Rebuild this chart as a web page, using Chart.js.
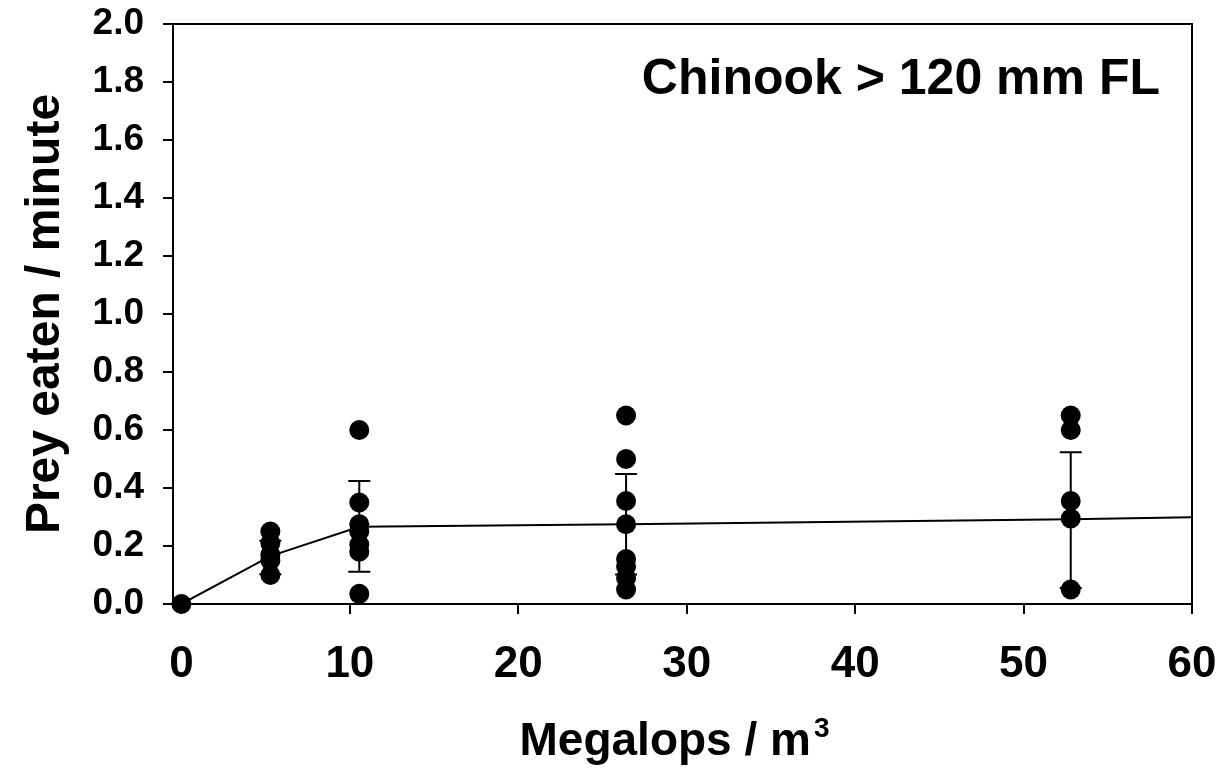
<!DOCTYPE html>
<html>
<head>
<meta charset="utf-8">
<script src="https://cdn.jsdelivr.net/npm/chart.js@4"></script>
<style>
  html, body { margin: 0; padding: 0; background: #fff; }
</style>
</head>
<body>
<canvas id="chart" width="1225" height="780"></canvas>
<script>
// Megalops densities tested (per m3)
const densities = [0, 5.28, 10.56, 26.4, 52.8];

// Individual trials: prey eaten per minute at each density
const trialsD0 = [0];
const trialsD1 = [0.25, 0.21, 0.17, 0.15, 0.10];
const trialsD2 = [0.60, 0.35, 0.275, 0.25, 0.205, 0.18, 0.035];
const trialsD3 = [0.65, 0.50, 0.355, 0.275, 0.155, 0.13, 0.09, 0.05];
const trialsD4 = [0.65, 0.60, 0.355, 0.295, 0.05];

// Error bars (mean +/- SD) for the non-zero densities
const errX = [5.28, 10.56, 26.4, 52.8];
const errLow = [0.103, 0.111, 0.102, 0.055];
const errHigh = [0.218, 0.424, 0.448, 0.523];

// Fitted curve
const fitX = [0, 5.28, 10.56, 26.4, 52.8, 60];
const fitY = [0, 0.165, 0.266, 0.275, 0.292, 0.299];

// Axis ticks
const xTicks = [0, 10, 20, 30, 40, 50, 60];
const yTicks = [0, 0.2, 0.4, 0.6, 0.8, 1.0, 1.2, 1.4, 1.6, 1.8, 2.0];

const chartTitle = 'Chinook > 120 mm FL';
const xTitle = 'Megalops / m';
const xTitleSup = '3';

const FONT = "'Liberation Sans', Arial, sans-serif";
Chart.defaults.font.family = FONT;
Chart.defaults.font.weight = 'bold';
Chart.defaults.color = '#000';

// Собираем точки
const trialSets = [trialsD0, trialsD1, trialsD2, trialsD3, trialsD4];
const trialPoints = [];
trialSets.forEach((vals, i) => {
    vals.forEach(v => trialPoints.push({ x: densities[i], y: v }));
});
const fitPoints = fitX.map((x, i) => ({ x: x, y: fitY[i] }));

// frame, error bars, in-plot title and x-axis title with superscript
const extrasPlugin = {
    id: 'extras',
    beforeDatasetsDraw(chart) {
        const ctx = chart.ctx;
        const xs = chart.scales.x;
        const ys = chart.scales.y;
        ctx.save();
        ctx.strokeStyle = '#000';
        ctx.lineWidth = 2;
        errX.forEach((x, i) => {
            const px = xs.getPixelForValue(x);
            const lo = ys.getPixelForValue(errLow[i]);
            const hi = ys.getPixelForValue(errHigh[i]);
            ctx.beginPath();
            ctx.moveTo(px, lo);
            ctx.lineTo(px, hi);
            ctx.moveTo(px - 11, hi);
            ctx.lineTo(px + 11, hi);
            ctx.moveTo(px - 11, lo);
            ctx.lineTo(px + 11, lo);
            ctx.stroke();
        });
        ctx.restore();
    },
    afterDraw(chart) {
        const ctx = chart.ctx;
        const area = chart.chartArea;
        ctx.save();
        ctx.strokeStyle = '#000';
        ctx.lineWidth = 2;
        ctx.beginPath();
        ctx.moveTo(area.left, area.top);
        ctx.lineTo(area.right, area.top);
        ctx.lineTo(area.right, area.bottom);
        ctx.stroke();

        ctx.fillStyle = '#000';
        ctx.font = 'bold 50px ' + FONT;
        ctx.textAlign = 'right';
        ctx.textBaseline = 'middle';
        ctx.fillText(chartTitle, area.right - 32, area.top + 56);

        // x axis title
        ctx.textAlign = 'left';
        ctx.textBaseline = 'alphabetic';
        ctx.font = 'bold 46px ' + FONT;
        const mainW = ctx.measureText(xTitle).width;
        ctx.font = 'bold 28px ' + FONT;
        const supW = ctx.measureText(xTitleSup).width;
        const cx = (area.left + area.right) / 2 - 8;
        const startX = cx - (mainW + supW + 3) / 2;
        const baseY = chart.height - 25;
        ctx.font = 'bold 46px ' + FONT;
        ctx.fillText(xTitle, startX, baseY);
        ctx.font = 'bold 28px ' + FONT;
        ctx.fillText(xTitleSup, startX + mainW + 3, baseY - 18);
        ctx.restore();
    }
};

const ctx = document.getElementById('chart').getContext('2d');
new Chart(ctx, {
    type: 'scatter',
    data: {
        datasets: [
            {
                type: 'line',
                data: fitPoints,
                borderColor: '#000',
                borderWidth: 2,
                pointRadius: 0,
                tension: 0,
                fill: false,
                order: 2
            },
            {
                data: trialPoints,
                backgroundColor: '#000',
                borderColor: '#000',
                borderWidth: 0,
                pointRadius: 10,
                clip: false,
                order: 1
            }
        ]
    },
    options: {
        responsive: false,
        animation: false,
        devicePixelRatio: 1,
        layout: { padding: { top: 24, right: 33, left: 0, bottom: 0 } },
        plugins: {
            legend: { display: false },
            tooltip: { enabled: false }
        },
        scales: {
            x: {
                type: 'linear',
                min: -0.5,
                max: 60,
                afterBuildTicks: (scale) => { scale.ticks = xTicks.map(v => ({ value: v })); },
                afterFit: (scale) => {
                    scale.height = 176;
                    scale.paddingLeft = 0;
                    scale.paddingRight = 0;
                },
                ticks: {
                    font: { size: 44, weight: 'bold' },
                    padding: 24,
                    maxRotation: 0,
                    callback: (v) => String(v)
                },
                grid: {
                    drawOnChartArea: false,
                    drawTicks: true,
                    tickLength: 10,
                    color: '#000',
                    lineWidth: 2
                },
                border: { display: true, color: '#000', width: 2 },
                title: { display: false }
            },
            y: {
                type: 'linear',
                min: 0,
                max: 2,
                afterBuildTicks: (scale) => { scale.ticks = yTicks.map(v => ({ value: v })); },
                afterFit: (scale) => {
                    scale.width = 173;
                    scale.paddingTop = 0;
                    scale.paddingBottom = 0;
                },
                ticks: {
                    font: { size: 37, weight: 'bold' },
                    padding: 19,
                    callback: (v) => Number(v).toFixed(1)
                },
                grid: {
                    drawOnChartArea: false,
                    drawTicks: true,
                    tickLength: 10,
                    color: '#000',
                    lineWidth: 2
                },
                border: { display: true, color: '#000', width: 2 },
                title: {
                    display: true,
                    text: 'Prey eaten / minute',
                    font: { size: 48, weight: 'bold' },
                    padding: { top: 17, bottom: 0 }
                }
            }
        }
    },
    plugins: [extrasPlugin]
});
</script>
</body>
</html>
